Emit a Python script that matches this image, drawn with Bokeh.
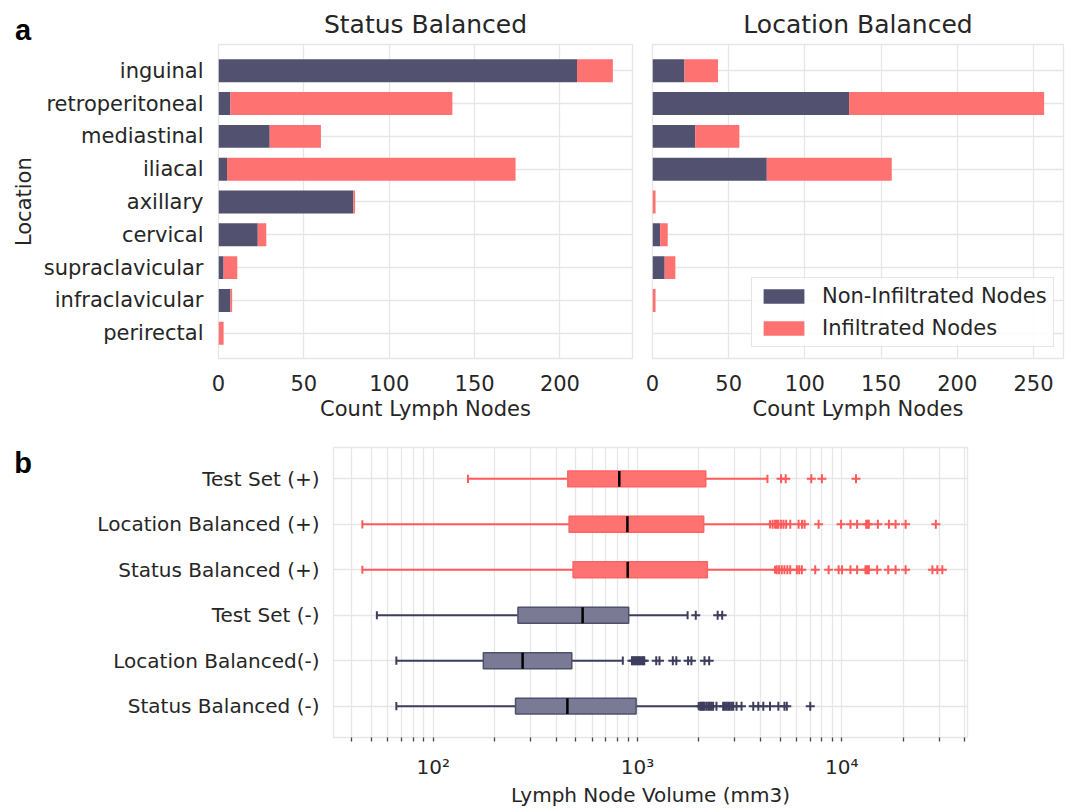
import math
from bokeh.plotting import figure
from bokeh.models import Range1d, FixedTicker, ColumnDataSource, Legend, LegendItem
from bokeh.core.properties import value
from bokeh.layouts import column, row
from bokeh.embed import file_html
from bokeh.resources import INLINE

# ---------------- data ----------------
locations = ["inguinal", "retroperitoneal", "mediastinal", "iliacal", "axillary",
             "cervical", "supraclavicular", "infraclavicular", "perirectal"]
status_non = [210, 7, 30, 5, 79, 23, 3, 7, 0]
status_inf = [21, 130, 30, 169, 1, 5, 8, 1, 3]
location_non = [21, 129, 28, 75, 0, 5, 8, 0, 0]
location_inf = [22, 128, 29, 82, 2, 5, 7, 2, 0]

status_ticks = [0, 50, 100, 150, 200]
location_ticks = [0, 50, 100, 150, 200, 250]

box_labels = ["Test Set (+)", "Location Balanced (+)", "Status Balanced (+)",
              "Test Set (-)", "Location Balanced(-)", "Status Balanced (-)"]
box_sign = ["+", "+", "+", "-", "-", "-"]
whisker_lo = [148, 45, 45, 53, 66, 66]
q1 = [456, 463, 484, 260, 176, 253]
median = [815, 893, 896, 539, 274, 454]
q3 = [2160, 2110, 2200, 906, 477, 985]
whisker_hi = [4330, 4460, 4720, 1760, 848, 1995]
outliers = [
    [5050, 5320, 7100, 8000, 11750],
    [4590, 4720, 4820, 4900, 5050, 5190, 5350, 5600, 6150, 6390, 6580, 7710, 9930,
     11040, 11900, 13180, 13400, 13580, 15040, 17030, 18360, 20560, 28900],
    [4808, 4935, 5091, 5245, 5420, 5598, 6032, 6194, 6383, 7420, 8630, 9660, 10040,
     11040, 11900, 13070, 13300, 13580, 14920, 16900, 18360, 20560, 27800, 29400, 31100],
    [1930, 2470, 2600],
    [940, 955, 970, 985, 1000, 1015, 1030, 1050, 1065, 1080, 1236, 1282, 1490, 1550,
     1770, 1837, 2130, 2245],
    [2030, 2060, 2094, 2130, 2176, 2220, 2262, 2300, 2346, 2437, 2628, 2680, 2731, 2780,
     2833, 2890, 2942, 3056, 3233, 3690, 3906, 4133, 4457, 4897, 5245, 5385, 7015],
]
vol_major = [100, 1000, 10000]
vol_major_labels = ["10\u00b2", "10\u00b3", "10\u2074"]
vol_minor = [40, 50, 60, 70, 80, 90, 200, 300, 400, 500, 600, 700, 800, 900,
             2000, 3000, 4000, 5000, 6000, 7000, 8000, 9000, 20000, 30000, 40000]

# ---------------- style ----------------
FONT = "DejaVu Sans"
TXT = "#262626"
GRID = "#e6e6e6"
NAVY = "#525270"
RED = "#ff7272"
STRIP_W = 36
TOP_H = 426


def base_style(p, fs):
    p.outline_line_color = GRID
    p.outline_line_width = 1.3
    for ax in (p.xaxis, p.yaxis):
        ax.axis_line_color = None
        ax.major_tick_line_color = None
        ax.minor_tick_line_color = None
        ax.major_tick_out = 0
        ax.major_tick_in = 0
        ax.minor_tick_out = 0
        ax.minor_tick_in = 0
        ax.major_label_text_font = FONT
        ax.major_label_text_font_size = fs
        ax.major_label_text_color = TXT
        ax.axis_label_text_font = FONT
        ax.axis_label_text_font_size = fs
        ax.axis_label_text_font_style = "normal"
        ax.axis_label_text_color = TXT
    for g in (p.xgrid, p.ygrid):
        g.grid_line_color = GRID
        g.grid_line_width = 1.3
    p.title.align = "center"
    p.title.text_font = FONT
    p.title.text_font_size = "25px"
    p.title.text_font_style = "normal"
    p.title.text_color = TXT
    p.title.standoff = 11


def bar_panel(title, non, inf, ticks, xmax, width, mbl, mbr, show_y):
    src = ColumnDataSource(dict(
        y=list(range(len(locations))),
        non=non,
        total=[a + b for a, b in zip(non, inf)],
    ))
    p = figure(width=width, height=TOP_H, title=title,
               x_range=Range1d(0, xmax), y_range=Range1d(8.77, -0.80),
               output_backend="svg", toolbar_location=None,
               min_border_left=mbl, min_border_right=mbr,
               min_border_top=44, min_border_bottom=68)
    r_non = p.hbar(y="y", left=0, right="non", height=0.7, source=src,
                   fill_color=NAVY, line_color=None)
    r_inf = p.hbar(y="y", left="non", right="total", height=0.7, source=src,
                   fill_color=RED, line_color=None)
    base_style(p, "21px")
    p.xaxis.ticker = FixedTicker(ticks=ticks)
    p.xaxis.axis_label = "Count Lymph Nodes"
    p.xaxis.major_label_standoff = 16
    p.xaxis.axis_label_standoff = 3
    p.yaxis.ticker = FixedTicker(ticks=list(range(len(locations))))
    p.yaxis.major_label_overrides = {i: n for i, n in enumerate(locations)}
    if show_y:
        p.yaxis.major_label_standoff = 15
    else:
        p.yaxis.visible = False
    return p, r_non, r_inf


def strip(height, mbl, x_range, y_range, title=None):
    s = figure(width=STRIP_W, height=height, x_range=x_range, y_range=y_range,
               output_backend="svg", toolbar_location=None, title=title,
               x_axis_location=None, y_axis_location=None,
               min_border_left=mbl, min_border_right=0, min_border_top=0, min_border_bottom=0)
    s.outline_line_color = None
    s.xgrid.visible = False
    s.ygrid.visible = False
    return s


p1, _, _ = bar_panel("Status Balanced", status_non, status_inf, status_ticks,
                     242.5, 642 - STRIP_W, 218 - STRIP_W, 10, True)
p2, rn, ri = bar_panel("Location Balanced", location_non, location_inf, location_ticks,
                       269.7, 430, 10, 9, False)

legend = Legend(items=[LegendItem(label="Non-Infiltrated Nodes", renderers=[rn]),
                       LegendItem(label="Infiltrated Nodes", renderers=[ri])],
                location=(99, 11))
legend.border_line_color = "#cccccc"
legend.border_line_width = 1.3
legend.background_fill_alpha = 0.85
legend.label_text_font = FONT
legend.label_text_font_size = "21px"
legend.label_text_color = TXT
legend.glyph_width = 51
legend.glyph_height = 18
legend.label_standoff = 13
legend.label_height = 22
legend.padding = 6
legend.spacing = 8
legend.margin = 0
p2.add_layout(legend)

# left strip of the top row: panel letter (as title) and the shared y-axis title.
# Its frame is aligned with the neighbouring frame (page y 44..358), so the
# ranges are expressed in page pixels.
sa = strip(TOP_H, 9, Range1d(9, STRIP_W), Range1d(357.7, 44), title="a")
sa.title.align = "center"
sa.title.text_font = "Liberation Sans"
sa.title.text_font_style = "bold"
sa.title.text_font_size = "29px"
sa.title.text_color = "black"
sa.title.standoff = -3
sa.text(x=[23.3], y=[201], text=["Location"], angle=math.pi / 2,
        text_font=value(FONT), text_font_size="21px", text_color=TXT,
        text_align="center", text_baseline="middle")

# ---------------- box panel ----------------
p3 = figure(width=1072 - STRIP_W, height=809 - TOP_H, x_axis_type="log",
            x_range=Range1d(32.5, 41300), y_range=Range1d(5.69, -0.69),
            output_backend="svg", toolbar_location=None,
            min_border_left=333 - STRIP_W, min_border_right=105,
            min_border_top=21, min_border_bottom=66)
base_style(p3, "20px")

ys = list(range(len(box_labels)))
line_col = ["#ff5a5a" if s == "+" else "#3d3d5e" for s in box_sign]
fill_col = [RED if s == "+" else "#7a7a95" for s in box_sign]
edge_col = ["#ff6464" if s == "+" else "#4f4f6e" for s in box_sign]
bsrc = ColumnDataSource(dict(
    y=ys, lo=whisker_lo, q1=q1, med=median, q3=q3, hi=whisker_hi,
    ylo=[y - 0.09 for y in ys], yhi=[y + 0.09 for y in ys],
    mlo=[y - 0.175 for y in ys], mhi=[y + 0.175 for y in ys],
    lc=line_col, fc=fill_col, ec=edge_col,
))
p3.segment(x0="lo", y0="y", x1="q1", y1="y", source=bsrc, line_color="lc", line_width=2)
p3.segment(x0="q3", y0="y", x1="hi", y1="y", source=bsrc, line_color="lc", line_width=2)
p3.segment(x0="lo", y0="ylo", x1="lo", y1="yhi", source=bsrc, line_color="lc", line_width=2)
p3.segment(x0="hi", y0="ylo", x1="hi", y1="yhi", source=bsrc, line_color="lc", line_width=2)
p3.hbar(y="y", left="q1", right="q3", height=0.35, source=bsrc,
        fill_color="fc", line_color="ec", line_width=1.5)
p3.segment(x0="med", y0="mlo", x1="med", y1="mhi", source=bsrc,
           line_color="black", line_width=2.5)

ox, oy, oc = [], [], []
for i, vals in enumerate(outliers):
    for v in vals:
        ox.append(v)
        oy.append(i)
        oc.append(line_col[i])
p3.scatter(x=ox, y=oy, marker="cross", size=9, line_width=2, line_color=oc)

p3.xaxis.ticker = FixedTicker(ticks=vol_major, minor_ticks=vol_minor)
p3.xaxis.major_label_overrides = {v: l for v, l in zip(vol_major, vol_major_labels)}
p3.xaxis.axis_label = "Lymph Node Volume (mm3)"
p3.xaxis.major_tick_line_color = "#444444"
p3.xaxis.minor_tick_line_color = "#444444"
p3.xaxis.major_tick_line_width = 1.3
p3.xaxis.minor_tick_line_width = 1.3
p3.xaxis.major_tick_out = 4
p3.xaxis.minor_tick_out = 4
p3.xaxis.major_label_standoff = 13
p3.xaxis.axis_label_standoff = 1
p3.xgrid.minor_grid_line_color = GRID
p3.xgrid.minor_grid_line_width = 1.3
p3.yaxis.ticker = FixedTicker(ticks=ys)
p3.yaxis.major_label_overrides = {i: n for i, n in enumerate(box_labels)}
p3.yaxis.major_label_standoff = 14

# bottom strip: its frame is aligned with the box panel frame (page y 446.7..743.3)
sb = strip(809 - TOP_H, 0, Range1d(0, STRIP_W), Range1d(743.3, 446.7))
sb.text(x=[22.7], y=[463], text=["b"], text_font=value("Liberation Sans"),
        text_font_style="bold", text_font_size="29px", text_color="black",
        text_align="center", text_baseline="middle")

layout = column(row(sa, p1, p2), row(sb, p3))
open("out.html", "w").write(file_html(layout, INLINE))
